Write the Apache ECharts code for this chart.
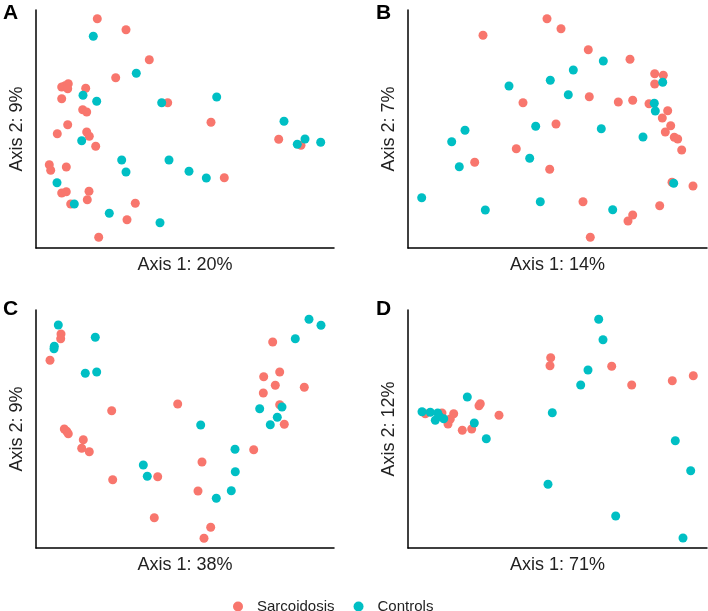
<!DOCTYPE html>
<html>
<head>
<meta charset="utf-8">
<script src="https://cdn.jsdelivr.net/npm/echarts@6/dist/echarts.min.js"></script>
<style>
  html, body { margin: 0; padding: 0; background: #fff; }
  #chart { width: 708px; height: 611px; }
</style>
</head>
<body>
<div id="chart"></div>
<script>
// Ordination coordinates (panel units, origin at axis corner)
const panelLetters = ['A', 'B', 'C', 'D']
const axis1Labels = ['Axis 1: 20%', 'Axis 1: 14%', 'Axis 1: 38%', 'Axis 1: 71%']
const axis2Labels = ['Axis 2: 9%', 'Axis 2: 7%', 'Axis 2: 9%', 'Axis 2: 12%']
const groupNames = ['Sarcoidosis', 'Controls']

const sarcA = [
  [61.3, 229.3], [90, 218.3], [113.3, 188.3], [79.7, 170.3], [25.7, 161], [29, 162.3],
  [32.3, 164.3], [31.7, 159.3], [49.7, 159.7], [25.7, 149.3], [46.7, 138.3], [50.7, 136],
  [131.7, 145.3], [175, 125.7], [31.7, 123.3], [21.3, 114.3], [50.7, 116], [53.3, 111.7],
  [59.7, 101.7], [13.3, 83.3], [14.7, 77.7], [30.3, 81], [188.3, 70.3], [25.7, 55],
  [30.3, 56.3], [53, 56.7], [51.3, 48.3], [34.7, 44], [99.3, 44.7], [91, 28.3],
  [62.7, 10.7], [242.7, 108.7], [265, 102.7]
]
const ctrlA = [
  [57.3, 211.7], [100.3, 174.7], [47, 152.7], [60.7, 146.7], [125.7, 145.3], [180.7, 151],
  [248, 126.7], [269, 109], [261.3, 103.7], [284.7, 105.7], [45.7, 107.3], [85.7, 88],
  [133, 88], [90, 76], [153, 76.7], [170.3, 70], [21, 65.3], [38.3, 44], [73.3, 34.7],
  [124, 25.3]
]
const sarcB = [
  [139, 229.3], [153, 219.3], [75, 212.7], [180.3, 198.3], [222, 188.7], [246.7, 174.3],
  [255.3, 172.7], [246.7, 164], [181.3, 151.3], [115, 145.3], [210.3, 146], [224.7, 147.7],
  [241, 144.3], [259.7, 137.3], [254.3, 130], [262.7, 122.3], [257.3, 116], [266.3, 110.7],
  [269.7, 109], [273.7, 98], [148, 124], [108.3, 99.3], [66.7, 85.7], [141.7, 78.7],
  [264, 65.7], [285, 62], [175, 46.3], [251.7, 42.3], [224.7, 33], [220, 27], [182.3, 10.7]
]
const ctrlB = [
  [195.3, 187], [165.3, 178], [142.3, 167.7], [254.7, 165.7], [101, 162], [160.3, 153.3],
  [246.3, 144.7], [247.3, 137], [127.7, 121.7], [193.3, 119.3], [235, 111], [57, 117.7],
  [43.7, 106.3], [121.7, 89.7], [51.3, 81.3], [265.7, 64.7], [13.7, 50.3], [132.3, 46.3],
  [77.3, 38], [204.7, 38.3]
]
const sarcC = [
  [25, 214], [24.7, 209.3], [14, 187.7], [75.7, 137.3], [141.7, 144], [28.3, 119],
  [30.7, 116.7], [32.3, 114.3], [47.3, 108.3], [45.7, 99.7], [53.3, 96.3], [76.7, 68.3],
  [121.7, 71.3], [166, 86], [162, 57], [118.3, 30.3], [174.7, 20.7], [168, 9.7],
  [236.7, 206], [243.7, 176], [227.7, 171.3], [239.3, 162.7], [268.3, 160.7], [227.3, 155],
  [243.7, 143.3], [248.3, 123.7], [217.7, 98.3]
]
const ctrlC = [
  [22.3, 223], [18.3, 201.7], [18, 199.3], [59.3, 210.7], [49.3, 174.7], [60.7, 176],
  [107.3, 83], [111.3, 71.7], [164.7, 123], [199, 98.7], [199.3, 76.3], [195.3, 57.3],
  [180.3, 49.7], [223.7, 139.3], [246, 141], [241.3, 130.7], [234.3, 123.3], [259.3, 209.3],
  [273, 228.7], [285, 222.7]
]
const sarcD = [
  [142.7, 190.3], [142, 182.3], [203.7, 181.7], [223.7, 163], [264.3, 167.3], [285.3, 172.3],
  [72.3, 144.3], [71, 142.3], [91, 132.7], [54.3, 117.7], [63.7, 119], [17.3, 134.3],
  [34, 135], [45.7, 134.3], [40, 124], [42.3, 129]
]
const ctrlD = [
  [190.7, 228.7], [195, 208.3], [180, 178], [172.7, 163], [144.3, 135.3], [59.3, 151],
  [66.3, 125], [78.3, 109.3], [14, 136.3], [22.3, 135.7], [29.7, 135], [27.3, 127.7],
  [35.7, 129.3], [31.3, 131.7], [267.3, 107.3], [282.7, 77.3], [140, 63.7], [207.7, 32],
  [275, 10]
]

const sarcSets = [sarcA, sarcB, sarcC, sarcD]
const ctrlSets = [ctrlA, ctrlB, ctrlC, ctrlD]

const SARC = '#F8766D'
const CTRL = '#00BFC4'
const FONT = 'Liberation Sans, Arial, sans-serif'

const grids = [
  { left: 36, top: 10, width: 298, height: 238 },
  { left: 408, top: 10, width: 299, height: 238 },
  { left: 36, top: 310, width: 298, height: 238 },
  { left: 408, top: 310, width: 299, height: 238 }
]
const letterPos = [[3, 13], [376, 13], [3, 309], [376, 309]]

const axisLine = { show: true, onZero: false, lineStyle: { color: '#000', width: 1.5 } }
const nameStyle = { color: '#222', fontSize: 18, fontFamily: FONT }

const chart = echarts.init(document.getElementById('chart'))

const xAxis = grids.map((g, i) => ({
  gridIndex: i, type: 'value', min: 0, max: g.width,
  name: axis1Labels[i], nameLocation: 'middle', nameGap: 8, nameTextStyle: nameStyle,
  axisLine, axisTick: { show: false }, axisLabel: { show: false }, splitLine: { show: false }
}))
const yAxis = grids.map((g, i) => ({
  gridIndex: i, type: 'value', min: 0, max: g.height,
  name: axis2Labels[i], nameLocation: 'middle', nameGap: 10, nameTextStyle: nameStyle,
  axisLine, axisTick: { show: false }, axisLabel: { show: false }, splitLine: { show: false }
}))

const series = []
for (let i = 0; i < 4; i++) {
  series.push({
    name: groupNames[0], type: 'scatter', xAxisIndex: i, yAxisIndex: i,
    data: sarcSets[i], symbolSize: 9, itemStyle: { color: SARC, opacity: 1 },
    silent: true
  })
  series.push({
    name: groupNames[1], type: 'scatter', xAxisIndex: i, yAxisIndex: i,
    data: ctrlSets[i], symbolSize: 9, itemStyle: { color: CTRL, opacity: 1 },
    silent: true
  })
}

chart.setOption({
  animation: false,
  backgroundColor: '#fff',
  grid: grids,
  xAxis,
  yAxis,
  series,
  legend: {
    data: groupNames,
    left: 228, top: 594,
    icon: 'circle', itemWidth: 10, itemHeight: 10, itemGap: 19,
    textStyle: { color: '#222', fontSize: 15, fontFamily: FONT, padding: [0, 0, 0, 9] }
  },
  graphic: panelLetters.map((t, i) => ({
    type: 'text', left: letterPos[i][0], top: letterPos[i][1] - 10,
    style: { text: t, font: 'bold 21px ' + FONT, fill: '#000' }
  }))
})
</script>
</body>
</html>
